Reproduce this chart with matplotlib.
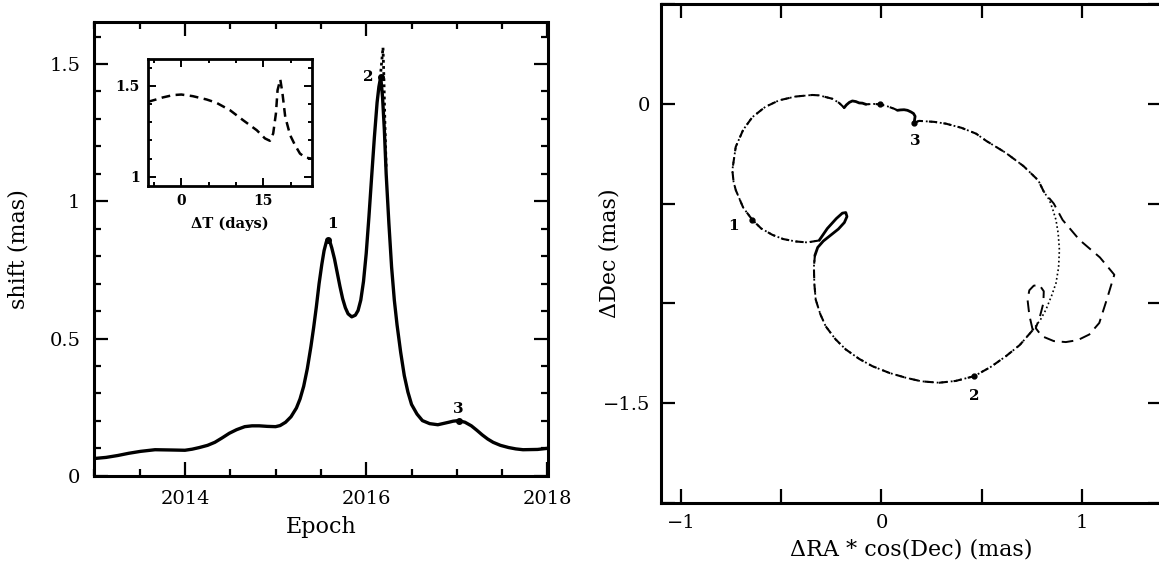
import matplotlib
matplotlib.use('Agg')
import matplotlib.pyplot as plt
from matplotlib.ticker import MultipleLocator, FuncFormatter

# ---- left panel: centroid shift vs epoch ----
EPOCH = [2013.0, 2013.13, 2013.26, 2013.38, 2013.51, 2013.67, 2013.85, 2014.0, 2014.08,
         2014.16, 2014.25, 2014.33, 2014.41, 2014.49, 2014.57, 2014.66, 2014.74, 2014.82,
         2014.91, 2015.0, 2015.05, 2015.11, 2015.17, 2015.23, 2015.27, 2015.31, 2015.35,
         2015.39, 2015.42, 2015.45, 2015.48, 2015.51, 2015.535, 2015.56, 2015.58, 2015.60,
         2015.62, 2015.65, 2015.68, 2015.71, 2015.74, 2015.77, 2015.80, 2015.84, 2015.88,
         2015.91, 2015.94, 2015.97, 2016.0, 2016.03, 2016.06, 2016.09, 2016.12, 2016.14,
         2016.16, 2016.18, 2016.2, 2016.22, 2016.25, 2016.28, 2016.31, 2016.34, 2016.38,
         2016.42, 2016.46, 2016.5, 2016.56, 2016.62, 2016.7, 2016.79, 2016.91, 2016.96,
         2017.02, 2017.09, 2017.16, 2017.22, 2017.28, 2017.34, 2017.40, 2017.48, 2017.57,
         2017.65, 2017.73, 2017.89, 2018.0]
SHIFT = [0.063, 0.067, 0.074, 0.082, 0.089, 0.095, 0.094, 0.093, 0.097,
         0.103, 0.111, 0.122, 0.138, 0.155, 0.168, 0.179, 0.182, 0.182,
         0.180, 0.179, 0.183, 0.195, 0.215, 0.247, 0.28, 0.326, 0.39,
         0.471, 0.54, 0.616, 0.70, 0.77, 0.82, 0.852, 0.86, 0.852,
         0.83, 0.79, 0.74, 0.69, 0.645, 0.612, 0.59, 0.579, 0.585,
         0.602, 0.64, 0.708, 0.81, 0.944, 1.09, 1.233, 1.36, 1.417,
         1.453, 1.38, 1.26, 1.10, 0.92, 0.76, 0.64, 0.55, 0.45,
         0.365, 0.305, 0.26, 0.225, 0.201, 0.19, 0.186, 0.195, 0.199,
         0.201, 0.195, 0.182, 0.166, 0.149, 0.134, 0.122, 0.111, 0.103,
         0.098, 0.095, 0.096, 0.100]
SPIKE_EPOCH = [2016.155, 2016.185, 2016.195, 2016.205, 2016.22]
SPIKE_SHIFT = [1.45, 1.56, 1.45, 1.30, 1.12]
PEAK_EPOCH = [2015.58, 2016.16, 2017.02]
PEAK_SHIFT = [0.86, 1.453, 0.201]
PEAK_LABELS = ['1', '2', '3']

# ---- inset: shift vs days ----
INSET_DT = [-6.1, -4.6, -3.4, -1.5, 0.0, 2.1, 4.6, 6.4, 8.9, 11.3, 13.8, 15.3, 16.2,
            16.8, 17.3, 17.6, 18.1, 18.5, 19.0, 19.9, 20.8, 21.7, 22.7, 23.9]
INSET_SHIFT = [1.412, 1.425, 1.436, 1.449, 1.452, 1.443, 1.425, 1.407, 1.366, 1.311,
               1.256, 1.211, 1.198, 1.238, 1.348, 1.476, 1.535, 1.458, 1.33, 1.229,
               1.174, 1.128, 1.106, 1.100]

# ---- right panel: sky trajectory (segments) ----
ARC_RA = [-0.186, -0.211, -0.245, -0.311, -0.345, -0.43, -0.511, -0.58, -0.644, -0.69,
          -0.727, -0.744, -0.738, -0.727, -0.69, -0.644, -0.60, -0.544, -0.49, -0.428,
          -0.37, -0.311]
ARC_DEC = [-0.019, 0.005, 0.026, 0.043, 0.045, 0.037, 0.018, -0.015, -0.066, -0.13,
           -0.215, -0.332, -0.39, -0.432, -0.52, -0.582, -0.625, -0.657, -0.678, -0.69,
           -0.695, -0.685]
LOOP_RA = [-0.311, -0.27, -0.225, -0.195, -0.178, -0.172, -0.185, -0.215, -0.255, -0.29,
           -0.318, -0.332]
LOOP_DEC = [-0.685, -0.625, -0.575, -0.548, -0.545, -0.565, -0.595, -0.628, -0.66, -0.688,
            -0.72, -0.76]
LOW_RA = [-0.332, -0.337, -0.335, -0.328, -0.305, -0.278, -0.23, -0.178, -0.11, -0.045,
          0.04, 0.122, 0.2, 0.288, 0.37, 0.463, 0.545, 0.621, 0.69, 0.755]
LOW_DEC = [-0.76, -0.816, -0.9, -0.982, -1.055, -1.116, -1.18, -1.232, -1.28, -1.316,
           -1.35, -1.374, -1.392, -1.399, -1.39, -1.366, -1.32, -1.266, -1.21, -1.135]
DOT_RA = [0.755, 0.795, 0.821, 0.85, 0.871, 0.884, 0.888, 0.882, 0.871, 0.855, 0.838, 0.81]
DOT_DEC = [-1.135, -1.08, -1.032, -0.96, -0.899, -0.82, -0.732, -0.65, -0.582, -0.53,
           -0.482, -0.44]
DASH_RA = [0.755, 0.738, 0.729, 0.738, 0.76, 0.788, 0.81, 0.808, 0.79, 0.77, 0.8, 0.86,
           0.92, 0.98, 1.037, 1.087, 1.125, 1.162, 1.09, 0.988, 0.904, 0.86, 0.81]
DASH_DEC = [-1.135, -1.06, -0.982, -0.935, -0.912, -0.908, -0.94, -1.0, -1.07, -1.125,
            -1.165, -1.19, -1.195, -1.185, -1.157, -1.099, -0.98, -0.857, -0.77, -0.682,
            -0.582, -0.5, -0.44]
UP_RA = [0.81, 0.783, 0.709, 0.62, 0.524, 0.472, 0.4, 0.322, 0.263, 0.188, 0.163]
UP_DEC = [-0.44, -0.384, -0.312, -0.245, -0.186, -0.149, -0.12, -0.099, -0.09, -0.085, -0.095]
CUSPB_RA = [0.163, 0.168, 0.16, 0.147, 0.13, 0.113, 0.095, 0.08]
CUSPB_DEC = [-0.095, -0.062, -0.048, -0.04, -0.032, -0.029, -0.03, -0.032]
MID_RA = [0.08, 0.063, 0.03, -0.006, -0.04, -0.078]
MID_DEC = [-0.032, -0.024, -0.012, -0.002, 0.0, -0.002]
CUSPA_RA = [-0.078, -0.095, -0.111, -0.128, -0.145, -0.16, -0.175, -0.186]
CUSPA_DEC = [-0.002, 0.004, 0.005, 0.012, 0.015, 0.008, -0.005, -0.019]
SKY_MARK_RA = [-0.644, 0.463, 0.163, -0.006]
SKY_MARK_DEC = [-0.582, -1.366, -0.095, -0.002]
SKY_LABEL_RA = [-0.738, 0.464, 0.167]
SKY_LABEL_DEC = [-0.61, -1.464, -0.186]

plt.rcParams['font.family'] = ['DejaVu Serif']
plt.rcParams['axes.linewidth'] = 2.2


def fmt(v, pos):
    return f'{v:g}'.replace('-', '\u2212')


def style(ax, major_len, minor_len, width, labelsize, pad):
    ax.tick_params(which='both', direction='in', top=True, right=True,
                   width=width, labelsize=labelsize, pad=pad)
    ax.tick_params(which='major', length=major_len)
    ax.tick_params(which='minor', length=minor_len)
    ax.xaxis.set_major_formatter(FuncFormatter(fmt))
    ax.yaxis.set_major_formatter(FuncFormatter(fmt))


fig = plt.figure(figsize=(11.59, 5.66), dpi=100)

# left panel
ax1 = fig.add_axes([94.3 / 1159, 1 - 475.8 / 566, 453.2 / 1159, 454.1 / 566])
ax1.plot(EPOCH, SHIFT, color='black', lw=2.4, solid_joinstyle='round')
ax1.plot(SPIKE_EPOCH, SPIKE_SHIFT, color='black', lw=2.0, ls=(0, (1, 1.2)))
ax1.plot(PEAK_EPOCH, PEAK_SHIFT, 'o', color='black', ms=4)
ax1.text(PEAK_EPOCH[0] + 0.05, PEAK_SHIFT[0] + 0.03, PEAK_LABELS[0],
         ha='center', va='bottom', fontsize=11, fontweight='bold')
ax1.text(PEAK_EPOCH[1] - 0.14, PEAK_SHIFT[1], PEAK_LABELS[1],
         ha='center', va='center', fontsize=11, fontweight='bold')
ax1.text(PEAK_EPOCH[2], PEAK_SHIFT[2] + 0.015, PEAK_LABELS[2],
         ha='center', va='bottom', fontsize=11, fontweight='bold')
ax1.set_xlim(2013, 2018)
ax1.set_ylim(0, 1.654)
ax1.xaxis.set_major_locator(MultipleLocator(2))
ax1.xaxis.set_minor_locator(MultipleLocator(0.5))
ax1.yaxis.set_major_locator(MultipleLocator(0.5))
ax1.yaxis.set_minor_locator(MultipleLocator(0.1))
style(ax1, 10, 5, 1.6, 14, 10)
ax1.set_xlabel('Epoch', fontsize=16)
ax1.set_ylabel('shift (mas)', fontsize=16)
ax1.xaxis.set_label_coords(0.5, -0.113)
ax1.xaxis.label.set_va('center')
ax1.yaxis.set_label_coords(-0.168, 0.5)
ax1.yaxis.label.set_va('center')

# inset
axi = fig.add_axes([148 / 1159, 1 - 186 / 566, 164 / 1159, 127 / 566])
axi.plot(INSET_DT, INSET_SHIFT, color='black', lw=1.8, ls=(0, (3.5, 2.2)))
axi.set_xlim(-6.1, 23.9)
axi.set_ylim(0.95, 1.647)
axi.xaxis.set_major_locator(MultipleLocator(15))
axi.xaxis.set_minor_locator(MultipleLocator(5))
axi.yaxis.set_major_locator(MultipleLocator(0.5))
axi.yaxis.set_minor_locator(MultipleLocator(0.1))
for s in axi.spines.values():
    s.set_linewidth(2.0)
style(axi, 6, 3, 1.4, 10, 6)
for lab in axi.get_xticklabels() + axi.get_yticklabels():
    lab.set_fontweight('bold')
axi.set_xlabel('\u0394T (days)', fontsize=10.5, fontweight='bold')
axi.xaxis.set_label_coords(0.5, -0.30)
axi.xaxis.label.set_va('center')

# right panel
ax2 = fig.add_axes([661 / 1159, 1 - 502.5 / 566, 501 / 1159, 498.2 / 566])
shared = [(ARC_RA, ARC_DEC), (LOW_RA, LOW_DEC), (UP_RA, UP_DEC), (MID_RA, MID_DEC)]
for ra, dec in shared:
    ax2.plot(ra, dec, color='black', lw=1.3, ls=(0, (1, 1.6)))
    ax2.plot(ra, dec, color='black', lw=1.5, ls=(0, (4, 3)))
for ra, dec in [(LOOP_RA, LOOP_DEC), (CUSPB_RA, CUSPB_DEC), (CUSPA_RA, CUSPA_DEC)]:
    ax2.plot(ra, dec, color='black', lw=2.0, solid_capstyle='round')
ax2.plot(DOT_RA, DOT_DEC, color='black', lw=1.2, ls=(0, (1, 1.6)))
ax2.plot(DASH_RA, DASH_DEC, color='black', lw=1.4, ls=(0, (6, 3.5)))
ax2.plot(SKY_MARK_RA, SKY_MARK_DEC, 'o', color='black', ms=3.5)
for ra, dec, lab in zip(SKY_LABEL_RA, SKY_LABEL_DEC, PEAK_LABELS):
    ax2.text(ra, dec, lab, ha='center', va='center', fontsize=11, fontweight='bold')
ax2.set_xlim(-1.1, 1.4)
ax2.set_ylim(-2.0, 0.5)
ax2.xaxis.set_major_locator(MultipleLocator(1))
ax2.xaxis.set_minor_locator(MultipleLocator(0.5))
ax2.yaxis.set_major_locator(MultipleLocator(1.5))
ax2.yaxis.set_minor_locator(MultipleLocator(0.5))
style(ax2, 10, 10, 1.6, 14, 8)
ax2.set_xlabel('\u0394RA * cos(Dec) (mas)', fontsize=16)
ax2.set_ylabel('\u0394Dec (mas)', fontsize=16)
ax2.xaxis.set_label_coords(0.5, -0.095)
ax2.xaxis.label.set_va('center')
ax2.yaxis.set_label_coords(-0.102, 0.5)
ax2.yaxis.label.set_va('center')

fig.savefig('out.png', dpi=100)
